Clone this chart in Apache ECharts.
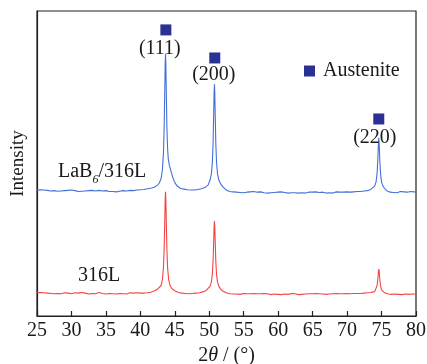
<!DOCTYPE html>
<html><head><meta charset="utf-8">
<script src="https://cdn.jsdelivr.net/npm/echarts@6/dist/echarts.min.js"></script>
<style>html,body{margin:0;padding:0;background:#fff}#c{width:427px;height:364px}</style>
</head><body><div id="c"></div>
<script>
// 2θ tick labels
const xTicks = [25,30,35,40,45,50,55,60,65,70,75,80];
// LaB6/316L pattern [2θ, intensity]
const lab6Data = [
[25,41.3],[25.25,41.0],[25.5,41.4],[25.75,41.1],[26,41.3],[26.25,40.9],[26.5,41.2],[26.75,41.4],[27,41.0],[27.25,41.2],[27.5,41.1],[27.75,41.4],[28,40.9],[28.25,41.2],[28.5,41.0],[28.75,41.3],[29,41.1],[29.25,40.8],[29.5,41.2],[29.75,41.0],[30,41.3],[30.25,40.9],[30.5,41.1],[30.75,41.2],[31,40.8],[31.25,41.1],[31.5,40.9],[31.75,41.2],[32,41.0],[32.25,40.8],[32.5,41.1],[32.75,40.9],[33,41.2],[33.25,40.8],[33.5,41.0],[33.75,40.9],[34,41.2],[34.25,40.8],[34.5,41.0],[34.75,40.7],[35,41.1],[35.25,40.9],[35.5,40.8],[35.75,41.1],[36,40.8],[36.25,41.0],[36.5,40.7],[36.75,41.0],[37,40.9],[37.25,40.7],[37.5,41.1],[37.75,40.8],[38,41.0],[38.25,40.9],[38.5,41.2],[38.75,40.9],[39,41.1],[39.25,41.0],[39.5,41.3],[39.75,41.1],[40,41.4],[40.25,41.2],[40.5,41.5],[40.75,41.4],[41,41.7],[41.25,41.6],[41.5,41.9],[41.75,42.0],[42,42.2],
[42.25,42.5],[42.5,42.9],[42.75,43.6],[43.0,45.0],[43.2,47.9],[43.35,53.4],[43.45,61.5],[43.55,75.4],[43.6,82.6],[43.65,85.9],[43.7,82.5],[43.75,75.5],[43.85,62],[43.95,55],[44.05,51.5],[44.2,49.5],[44.35,48.3],[44.5,47.0],[44.7,45.5],[44.9,44.3],[45.1,43.4],[45.35,42.6],[45.6,42.1],[45.85,41.8],[46.1,41.5],[46.35,41.6],[46.6,41.2],[46.85,41.4],[47.1,41.1],[47.35,41.3],[47.6,41.0],[47.85,41.3],[48.1,41.2],[48.35,41.5],[48.6,41.4],[48.85,41.7],[49.1,41.8],[49.35,42.1],[49.6,42.4],[49.85,43.0],[50.1,44.5],[50.3,46.5],[50.45,50.5],[50.55,56.5],[50.65,67.3],[50.7,73.3],[50.75,76],[50.8,73.3],[50.85,67.3],[50.95,56.5],[51.05,50.5],[51.2,46.5],[51.4,44.5],[51.65,43.3],[51.95,42.4],[52.2,41.8],[52.45,41.3],[52.7,41.0],[52.95,40.8],[53.2,41.0],[53.45,40.7],[53.7,40.9],[53.95,40.6],
[54.2,40.8],[54.45,40.5],[54.7,40.7],[54.95,40.4],[55.2,40.8],[55.45,40.6],[55.7,40.3],[55.95,40.7],[56.2,40.5],[56.45,40.8],[56.7,40.4],[56.95,40.6],[57.2,40.3],[57.45,40.7],[57.7,40.5],[57.95,40.4],[58.2,40.7],[58.45,40.3],[58.7,40.6],[58.95,40.4],[59.2,40.7],[59.45,40.5],[59.7,40.2],[59.95,40.6],[60.2,40.4],[60.45,40.7],[60.7,40.3],[60.95,40.5],[61.2,40.6],[61.45,40.3],[61.7,40.6],[61.95,40.4],[62.2,40.7],[62.45,40.4],[62.7,40.5],[62.95,40.3],[63.2,40.6],[63.45,40.4],[63.7,40.7],[63.95,40.3],[64.2,40.5],[64.45,40.6],[64.7,40.3],[64.95,40.6],[65.2,40.4],[65.45,40.7],[65.7,40.4],[65.95,40.5],[66.2,40.3],[66.45,40.6],[66.7,40.5],[66.95,40.3],[67.2,40.7],[67.45,40.4],[67.7,40.6],[67.95,40.3],[68.2,40.5],[68.45,40.7],[68.7,40.4],[68.95,40.6],[69.2,40.3],[69.45,40.6],[69.7,40.5],[69.95,40.7],[70.2,40.4],[70.45,40.6],[70.7,40.5],[70.95,40.7],[71.2,40.5],[71.45,40.8],[71.7,40.6],[71.95,40.8],[72.2,40.7],[72.45,41.0],[72.7,40.9],[72.95,41.1],[73.2,41.2],[73.45,41.5],[73.7,41.8],[74.0,42.6],[74.2,43.9],[74.35,46.7],[74.45,50.8],[74.55,56.9],[74.6,58.4],[74.65,56.9],[74.75,50.8],[74.85,46.7],[75.0,43.9],[75.2,42.6],[75.45,41.8],[75.75,41.1],[76.0,40.8],[76.25,40.6],[76.5,40.8],[76.75,40.5],[77.0,40.7],[77.25,40.4],[77.5,40.6],[77.75,40.8],[78.0,40.5],[78.25,40.7],[78.5,40.4],[78.75,40.6],[79.0,40.5],[79.25,40.8],[79.5,40.5],[79.75,40.7],[80.0,40.6]
];
// 316L pattern [2θ, intensity]
const l316Data = [
[25,7.6],[25.25,7.3],[25.5,7.7],[25.75,7.4],[26,7.6],[26.25,7.2],[26.5,7.5],[26.75,7.8],[27,7.4],[27.25,7.6],[27.5,7.3],[27.75,7.6],[28,7.4],[28.25,7.7],[28.5,7.3],[28.75,7.5],[29,7.6],[29.25,7.2],[29.5,7.5],[29.75,7.7],[30,7.3],[30.25,7.5],[30.5,7.6],[30.75,7.2],[31,7.5],[31.25,7.4],[31.5,7.7],[31.75,7.3],[32,7.5],[32.25,7.6],[32.5,7.2],[32.75,7.5],[33,7.4],[33.25,7.6],[33.5,7.3],[33.75,7.5],[34,7.7],[34.25,7.3],[34.5,7.4],[34.75,7.6],[35,7.2],[35.25,7.5],[35.5,7.4],[35.75,7.6],[36,7.3],[36.25,7.5],[36.5,7.2],[36.75,7.5],[37,7.4],[37.25,7.6],[37.5,7.3],[37.75,7.5],[38,7.2],[38.25,7.4],[38.5,7.6],[38.75,7.3],[39,7.5],[39.25,7.4],[39.5,7.6],[39.75,7.4],[40,7.5],[40.25,7.7],[40.5,7.5],[40.75,7.7],[41,7.6],[41.25,7.9],[41.5,7.8],[41.75,8.1],[42,8.2],[42.25,8.4],[42.5,8.8],[42.75,9.2],[43.0,10.0],[43.2,12.0],[43.35,15.9],[43.45,21.7],[43.55,32.2],[43.6,38.1],[43.65,40.7],[43.7,38.1],[43.75,32.2],[43.85,21.7],[43.95,15.9],[44.1,12.0],[44.3,10.0],[44.55,9.0],[44.8,8.5],[45.05,8.2],[45.3,7.9],[45.55,7.7],[45.8,7.9],[46.05,7.5],[46.3,7.7],[46.55,7.4],[46.8,7.6],[47.05,7.3],[47.3,7.6],[47.55,7.4],[47.8,7.7],[48.05,7.5],[48.3,7.8],[48.55,7.6],[48.8,7.9],[49.05,7.9],[49.3,8.2],[49.55,8.4],[49.8,8.9],[50.1,9.7],[50.3,11.1],[50.45,13.8],[50.55,17.8],[50.65,25.2],[50.7,29.3],[50.75,31.1],[50.8,29.3],[50.85,25.2],[50.95,17.8],[51.05,13.8],[51.2,11.1],[51.4,9.7],[51.65,8.8],[51.95,8.2],[52.2,7.9],[52.45,7.6],[52.7,7.6],[52.95,7.3],[53.2,7.5],[53.45,7.2],[53.7,7.4],[53.95,7.2],[54.2,7.5],[54.45,7.1],[54.7,7.3],[54.95,7.4],[55.2,7.1],[55.45,7.3],[55.7,7.0],[55.95,7.3],[56.2,7.2],[56.45,7.4],[56.7,7.1],[56.95,7.3],[57.2,7.0],[57.45,7.3],[57.7,7.2],[57.95,7.4],[58.2,7.1],[58.45,7.3],[58.7,7.2],[58.95,7.0],[59.2,7.3],[59.45,7.2],[59.7,7.4],[59.95,7.1],[60.2,7.3],[60.45,7.0],[60.7,7.3],[60.95,7.2],[61.2,7.4],[61.45,7.1],[61.7,7.2],[61.95,7.4],[62.2,7.0],[62.45,7.3],[62.7,7.2],[62.95,7.0],[63.2,7.3],[63.45,7.1],[63.7,7.4],[63.95,7.2],[64.2,7.0],[64.45,7.3],[64.7,7.1],[64.95,7.3],[65.2,7.2],[65.45,7.4],[65.7,7.1],[65.95,7.3],[66.2,7.0],[66.45,7.2],[66.7,7.4],[66.95,7.1],[67.2,7.3],[67.45,7.2],[67.7,7.0],[67.95,7.3],[68.2,7.1],[68.45,7.4],[68.7,7.2],[68.95,7.3],[69.2,7.1],[69.45,7.3],[69.7,7.2],[69.95,7.4],[70.2,7.1],[70.45,7.3],[70.7,7.2],[70.95,7.4],[71.2,7.2],[71.45,7.4],[71.7,7.3],[71.95,7.4],[72.2,7.3],[72.45,7.5],[72.7,7.4],[72.95,7.6],[73.2,7.5],[73.45,7.7],[73.7,7.8],[74.0,8.0],[74.2,8.6],[74.35,9.9],[74.45,11.9],[74.55,14.7],[74.6,15.4],[74.65,14.7],[74.75,11.9],[74.85,9.9],[75.0,8.6],[75.2,8.0],[75.45,7.6],[75.7,7.4],[75.95,7.2],[76.2,7.4],[76.45,7.1],[76.7,7.3],[76.95,7.2],[77.2,7.4],[77.45,7.1],[77.7,7.3],[77.95,7.0],[78.2,7.3],[78.45,7.2],[78.7,7.4],[78.95,7.1],[79.2,7.3],[79.45,7.2],[79.7,7.4],[80.0,7.2]
];
// Austenite peak markers
const peakNames = ['(111)','(200)','(220)'];
const peakPos = [43.7, 50.8, 74.6];
const markerY = [93.8, 84.6, 64.6];

const serif = '"Liberation Serif","Times New Roman",serif';
const chart = echarts.init(document.getElementById('c'), null, {renderer:'canvas'});
const labelOffsets = [[-6,2],[-1,0],[-4,2]];
chart.setOption({
  animation:false,
  backgroundColor:'#fff',
  grid:{left:37,right:11,top:11,bottom:48,containLabel:false,outerBoundsMode:'none',
    show:true,borderColor:'#222',borderWidth:1.2,backgroundColor:'transparent'},
  legend:{data:['Austenite'],left:299,top:56,icon:'rect',itemWidth:11,itemHeight:11,
    itemStyle:{opacity:1},
    textStyle:{fontFamily:serif,fontSize:20,color:'#1a1a1a',padding:[0,0,0,3]}},
  xAxis:{type:'value',min:25,max:80,interval:5,
    axisLine:{lineStyle:{color:'#222',width:1.2}},
    axisTick:{inside:true,length:5,lineStyle:{color:'#222',width:1.2}},
    axisLabel:{fontFamily:serif,fontSize:20,color:'#1a1a1a',margin:5,
      formatter:function(v){return xTicks.indexOf(v)>=0?String(v):'';}},
    splitLine:{show:false},
    name:'2{i|θ} / (°)',nameLocation:'middle',nameGap:23,
    nameTextStyle:{fontFamily:serif,fontSize:20,color:'#1a1a1a',
      rich:{i:{fontFamily:serif,fontSize:20,fontStyle:'italic',color:'#1a1a1a'}}}},
  yAxis:{type:'value',min:0,max:100,
    axisLine:{show:true,lineStyle:{color:'#222',width:1.2}},
    axisTick:{show:false},axisLabel:{show:false},splitLine:{show:false},
    name:'Intensity',nameLocation:'middle',nameGap:9,
    nameTextStyle:{fontFamily:serif,fontSize:19,color:'#1a1a1a',padding:[0,0,0,0]}},
  graphic:[
    {type:'text',left:58,top:162,style:{text:'{a|LaB}{s|6}{a|/316L}',
      rich:{a:{fontFamily:serif,fontSize:20,fill:'#1a1a1a',verticalAlign:'top',lineHeight:22},
            s:{fontFamily:serif,fontSize:12,fill:'#1a1a1a',fontStyle:'italic',verticalAlign:'bottom',lineHeight:24}}}},
    {type:'text',left:78,top:266,style:{text:'316L',fontFamily:serif,fontSize:20,fill:'#1a1a1a'}}
  ],
  series:[
    {name:'LaB6/316L',type:'line',data:lab6Data,showSymbol:false,symbol:'none',
      lineStyle:{color:'#4470d6',width:1.1},itemStyle:{color:'#4470d6'},z:3},
    {name:'316L',type:'line',data:l316Data,showSymbol:false,symbol:'none',
      lineStyle:{color:'#f24444',width:1.1},itemStyle:{color:'#f24444'},z:3},
    {name:'Austenite',type:'scatter',symbol:'rect',symbolSize:11,z:5,
      itemStyle:{color:'#2b3192',opacity:1},
      data:peakPos.map(function(p,i){return {value:[p,markerY[i]],
        label:{show:true,formatter:peakNames[i],position:'bottom',distance:1,offset:labelOffsets[i],
          fontFamily:serif,fontSize:20,color:'#1a1a1a'}};})}
  ]
});
</script></body></html>
